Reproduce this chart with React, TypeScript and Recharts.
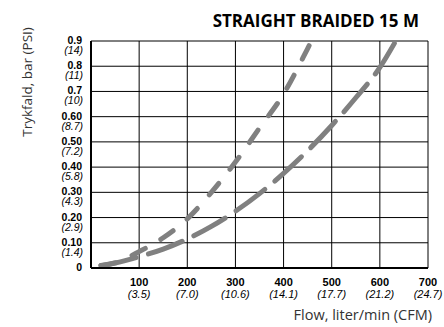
import { LineChart, Line, XAxis, YAxis, CartesianGrid } from "recharts"

const xTicks = [0, 100, 200, 300, 400, 500, 600, 700]
const xCfm = ["", "(3.5)", "(7.0)", "(10.6)", "(14.1)", "(17.7)", "(21.2)", "(24.7)"]

const yTicks = [0, 0.1, 0.2, 0.3, 0.4, 0.5, 0.6, 0.7, 0.8, 0.9]
const yBar = ["0", "0.10", "0.20", "0.30", "0.40", "0.50", "0.60", "0.7", "0.8", "0.9"]
const yPsi = ["", "(1.4)", "(2.9)", "(4.3)", "(5.8)", "(7.2)", "(8.7)", "(10)", "(11)", "(14)"]

// steep curve (short dashes)
const steepFlow = [0, 50, 100, 150, 200, 250, 300, 350, 400, 450, 458]
const steepBar = [0.005, 0.02, 0.065, 0.12, 0.195, 0.3, 0.42, 0.555, 0.69, 0.87, 0.9]

// shallow curve (long dashes)
const flatFlow = [0, 50, 100, 150, 200, 250, 300, 350, 400, 450, 500, 550, 600, 633]
const flatBar = [0.005, 0.02, 0.045, 0.075, 0.115, 0.165, 0.225, 0.295, 0.375, 0.465, 0.565, 0.675, 0.795, 0.9]

const steepData = steepFlow.map((x, i) => ({ x, y: steepBar[i] }))
const flatData = flatFlow.map((x, i) => ({ x, y: flatBar[i] }))

const tickFont = "'Liberation Sans', Arial, sans-serif"

function XTick(props: any) {
  const { x, y, payload, index } = props
  if (payload.value === 0) return null
  return (
    <g>
      <text x={x} y={y + 10} textAnchor="middle" fontFamily={tickFont} fontSize={11} fontWeight="bold" fill="#000">
        {payload.value}
      </text>
      <text x={x} y={y + 22} textAnchor="middle" fontFamily={tickFont} fontSize={11} fontStyle="italic" fill="#000">
        {xCfm[index]}
      </text>
    </g>
  )
}

function YTick(props: any) {
  const { x, y, index } = props
  return (
    <g>
      <text x={x - 1} y={y + 3} textAnchor="end" fontFamily={tickFont} fontSize={10.5} fontWeight="bold" fill="#000">
        {yBar[index]}
      </text>
      {yPsi[index] && (
        <text x={x} y={y + 13} textAnchor="end" fontFamily={tickFont} fontSize={10.5} fontStyle="italic" fill="#000">
          {yPsi[index]}
        </text>
      )}
    </g>
  )
}

export default function App() {
  return (
    <div style={{ position: "absolute", left: 0, top: 0, width: 444, height: 327, background: "#fff" }}>
      <LineChart
        width={444}
        height={327}
        margin={{ top: 41, right: 16, bottom: 0, left: 0 }}
      >
        <CartesianGrid stroke="#000" strokeWidth={1} />
        <XAxis
          type="number"
          dataKey="x"
          domain={[0, 700]}
          ticks={xTicks}
          height={59}
          tickLine={false}
          axisLine={{ stroke: "#000", strokeWidth: 2 }}
          tick={<XTick />}
          interval={0}
        />
        <YAxis
          type="number"
          domain={[0, 0.9]}
          ticks={yTicks}
          width={91}
          tickLine={false}
          axisLine={{ stroke: "#000", strokeWidth: 2 }}
          tick={<YTick />}
          interval={0}
        />
        <Line
          data={steepData}
          dataKey="y"
          type="monotone"
          stroke="#808080"
          strokeWidth={5}
          strokeLinecap="round"
          strokeDasharray="15 18"
          strokeDashoffset={23}
          dot={false}
          isAnimationActive={false}
        />
        <Line
          data={flatData}
          dataKey="y"
          type="monotone"
          stroke="#808080"
          strokeWidth={5}
          strokeLinecap="round"
          strokeDasharray="36 13"
          strokeDashoffset={39}
          dot={false}
          isAnimationActive={false}
        />
      </LineChart>
      <div
        style={{
          position: "absolute",
          right: 25,
          top: 9,
          lineHeight: "normal",
          fontFamily: "'Open Sans', sans-serif",
          fontWeight: "bold",
          fontSize: 17,
          color: "#000",
          whiteSpace: "nowrap",
        }}
      >
        STRAIGHT BRAIDED 15 M
      </div>
      <div
        style={{
          position: "absolute",
          right: 12,
          top: 305,
          lineHeight: "normal",
          fontFamily: "'Open Sans', sans-serif",
          fontSize: 14.5,
          color: "#333",
          whiteSpace: "nowrap",
        }}
      >
        Flow, liter/min (CFM)
      </div>
      <div
        style={{
          position: "absolute",
          left: 27,
          top: 82,
          transform: "translate(-50%, -50%) rotate(-90deg)",
          lineHeight: "normal",
          fontFamily: "'Open Sans', sans-serif",
          fontSize: 13.5,
          color: "#333",
          whiteSpace: "nowrap",
        }}
      >
        Trykfald, bar (PSI)
      </div>
    </div>
  )
}
